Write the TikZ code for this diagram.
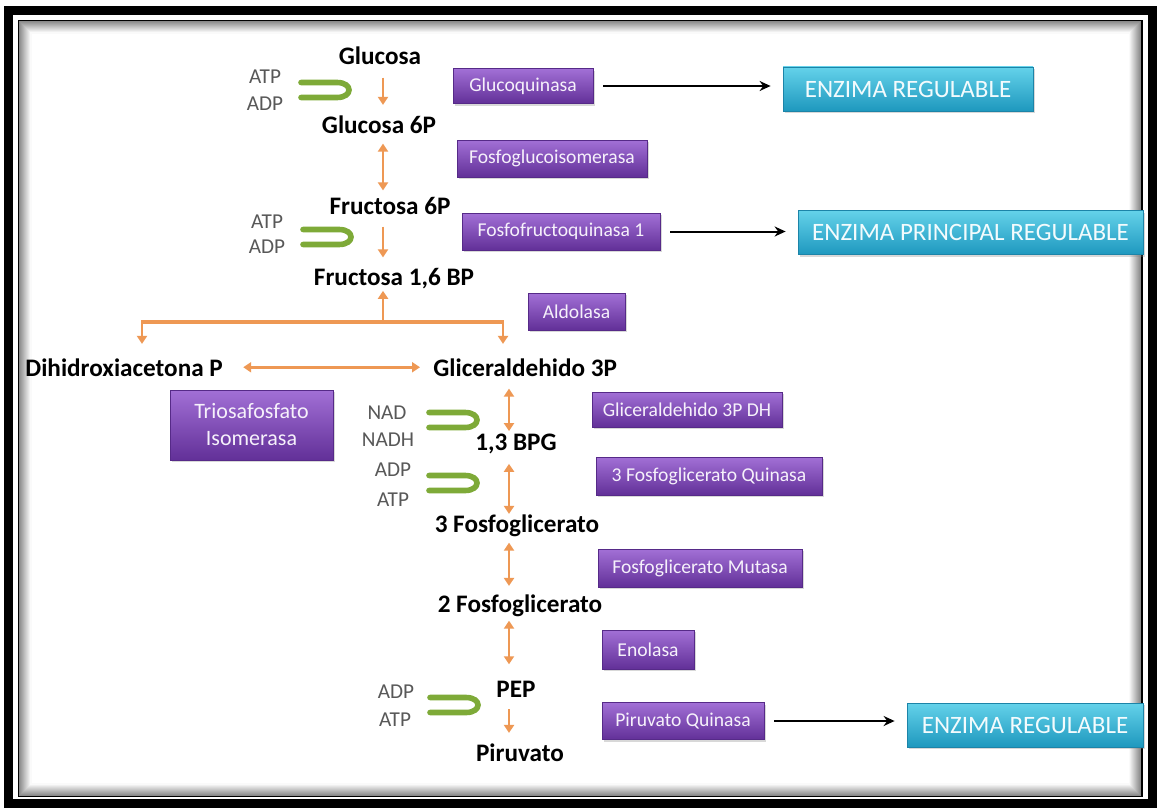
\documentclass[tikz,border=0pt]{standalone}
\usepackage{fontspec}
\setmainfont{Carlito}
\usetikzlibrary{arrows.meta,shadows}
\definecolor{enztop}{RGB}{162,112,214}
\definecolor{enzbot}{RGB}{98,48,152}
\definecolor{enzline}{RGB}{86,42,136}
\definecolor{regtop}{RGB}{100,210,234}
\definecolor{regbot}{RGB}{30,152,190}
\definecolor{regline}{RGB}{28,132,168}
\definecolor{steporange}{RGB}{238,152,84}
\definecolor{cofgreen}{RGB}{126,170,56}
\definecolor{cofgrey}{RGB}{88,88,88}
\tikzset{
  metab/.style={inner sep=0pt,anchor=base,font=\fontsize{12.6}{14}\selectfont\bfseries},
  cofac/.style={inner sep=0pt,text=cofgrey,font=\fontsize{10.6}{12}\selectfont},
  enz/.style={rectangle,top color=enztop,bottom color=enzbot,draw=enzline,line width=.4pt,
              text=white!90!enztop,inner sep=2pt,minimum height=18.5pt,align=center,
              font=\fontsize{9.8}{11}\selectfont,
              drop shadow={shadow xshift=1.2pt,shadow yshift=-1.2pt,opacity=.3}},
  reg/.style={rectangle,top color=regtop,bottom color=regbot,draw=regline,line width=.4pt,
              text=white!92!regtop,inner sep=2pt,minimum height=22pt,
              font=\fontsize{12.5}{14}\selectfont,
              drop shadow={shadow xshift=1.2pt,shadow yshift=-1.2pt,opacity=.3}},
  stepfwd/.style={draw=steporange,line width=1.4pt,-{Triangle[length=4pt,width=5pt]},
                  shorten <=4pt,shorten >=4pt},
  steprev/.style={stepfwd,{Triangle[length=4pt,width=5pt]}-{Triangle[length=4pt,width=5pt]}},
  stepline/.style={draw=steporange,line width=1.6pt},
  regarrow/.style={-{Stealth[length=5.5pt,width=5pt]},line width=1pt,
                   shorten <=5pt,shorten >=6pt},
  coupling/.pic={
    \draw[cofgreen,line width=2.8pt,line cap=round]
      (-24,-7.5) -- (12,-7.5) .. controls (28,-7.5) and (28,7.5) .. (12,7.5) -- (-24,7.5);
  },
}

\begin{document}
\begin{tikzpicture}[x=0.5pt,y=-0.5pt]
  \fill[white] (0,0) rectangle (1159,808);
  \useasboundingbox (0,0) rectangle (1159,808);
  % frame
  \draw[line width=4.5pt] (8.5,10.5) rectangle (1152.5,803.5);
  \draw[line width=1pt] (19,21) rectangle (1141.5,796);
  \foreach \i in {1,...,12}{
    \pgfmathsetmacro\tone{int(50-4*\i)}
    \draw[black!\tone,line width=0.6pt] (19+\i,21+\i) rectangle (1141.5-\i,796-\i);
  }
  \coordinate (col1) at (383,0);
  \coordinate (col2) at (509,0);

  % metabolites
  \node[metab] (glc)   at (380,65)  {Glucosa};
  \node[metab] (g6p)   at (379,133) {Glucosa 6P};
  \node[metab] (f6p)   at (390,214) {Fructosa 6P};
  \node[metab] (f16bp) at (394,285) {Fructosa 1,6 BP};
  \node[metab,anchor=base west] (dhap)  at (25,376)  {Dihidroxiacetona P};
  \node[metab,anchor=base west] (gly3p) at (433,376) {Gliceraldehido 3P};
  \node[metab] (bpg)   at (516,450) {1,3 BPG};
  \node[metab] (pg3)   at (517,532) {3 Fosfoglicerato};
  \node[metab] (pg2)   at (520,612) {2 Fosfoglicerato};
  \node[metab] (pep)   at (516,697) {PEP};
  \node[metab] (pyr)   at (520,761) {Piruvato};

  % cofactors
  \node[cofac] (atp1) at (265,77)  {ATP};
  \node[cofac] (adp1) at (265,104) {ADP};
  \pic at (325,90) {coupling};
  \node[cofac] (atp2) at (267,222) {ATP};
  \node[cofac] (adp2) at (267,247) {ADP};
  \pic at (327,237) {coupling};
  \node[cofac] (nad)  at (387,413) {NAD};
  \node[cofac] (nadh) at (388,440) {NADH};
  \pic at (453,420) {coupling};
  \node[cofac] (adp3) at (393,470) {ADP};
  \node[cofac] (atp3) at (393,500) {ATP};
  \pic at (453,483) {coupling};
  \node[cofac] (adp4) at (396,692) {ADP};
  \node[cofac] (atp4) at (395,720) {ATP};
  \pic at (454,705) {coupling};

  % enzymes
  \node[enz,minimum width=70pt,minimum height=17.5pt] (gk) at (523,86) {Glucoquinasa};
  \node[enz,minimum width=95pt]  (pgi)   at (552,158.5) {Fosfoglucoisomerasa};
  \node[enz,minimum width=99pt]  (pfk)   at (561,231.5) {Fosfofructoquinasa 1};
  \node[enz,minimum width=48.5pt] (ald)  at (576.5,311.5) {Aldolasa};
  \node[enz,minimum width=81.5pt,minimum height=35pt,font=\fontsize{11}{13.5}\selectfont]
    (tpi) at (251.5,425) {Triosafosfato\\Isomerasa};
  \node[enz,minimum width=95pt,minimum height=17.5pt] (gapdh) at (687,409.5) {Gliceraldehido 3P DH};
  \node[enz,minimum width=113pt,minimum height=19pt] (pgk) at (709,476) {3 Fosfoglicerato Quinasa};
  \node[enz,minimum width=102pt,minimum height=19pt] (pgm) at (700,568) {Fosfoglicerato Mutasa};
  \node[enz,minimum width=46pt,minimum height=19.5pt] (eno) at (648,649.5) {Enolasa};
  \node[enz,minimum width=81pt]  (pk)    at (683,721) {Piruvato Quinasa};

  % regulated steps
  \node[reg,minimum width=125pt]   (reg1) at (908,89)    {ENZIMA REGULABLE};
  \node[reg,minimum width=172.5pt] (reg2) at (970.5,232.5) {ENZIMA PRINCIPAL REGULABLE};
  \node[reg,minimum width=118pt]   (reg3) at (1025,725)  {ENZIMA REGULABLE};
  \draw[regarrow] (gk)  -- (gk -| reg1.west);
  \draw[regarrow] (pfk) -- (pfk -| reg2.west);
  \draw[regarrow] (pk)  -- (pk -| reg3.west);

  % upper half
  \draw[stepfwd,shorten <=6pt,shorten >=5pt] (glc.south -| col1) -- (g6p.north -| col1);
  \draw[steprev,shorten <=5pt,shorten >=3pt] (g6p.south -| col1) -- (f6p.north -| col1);
  \draw[stepfwd,shorten <=6pt,shorten >=5pt] (f6p.south -| col1) -- (f16bp.north -| col1);

  % aldolase split
  \coordinate (split)  at (383,322);
  \coordinate (lsplit) at (142,322);
  \coordinate (rsplit) at (503,322);
  \draw[stepline] (lsplit) -- (rsplit);
  \draw[stepfwd,shorten <=0pt,shorten >=1pt] (split) -- (f16bp.south -| split);
  \draw[stepfwd,shorten <=-0.8pt,shorten >=7pt] (lsplit) -- (dhap.north -| lsplit);
  \draw[stepfwd,shorten <=-0.8pt,shorten >=7pt] (rsplit) -- (gly3p.north -| rsplit);
  \draw[steprev,shorten <=10pt,shorten >=6.5pt] (dhap.east) -- (gly3p.west);

  % lower half
  \draw[steprev,shorten <=6pt,shorten >=1pt] (gly3p.south -| col2) -- (bpg.north -| col2);
  \draw[steprev,shorten <=5pt,shorten >=0pt] (bpg.south -| col2) -- (pg3.north -| col2);
  \draw[steprev,shorten <=3pt,shorten >=4pt] (pg3.south -| col2) -- (pg2.north -| col2);
  \draw[steprev,shorten <=2pt,shorten >=8pt] (pg2.south -| col2) -- (pep.north -| col2);
  \draw[stepfwd,shorten <=6pt,shorten >=5pt] (pep.south -| col2) -- (pyr.north -| col2);
\end{tikzpicture}
\end{document}
